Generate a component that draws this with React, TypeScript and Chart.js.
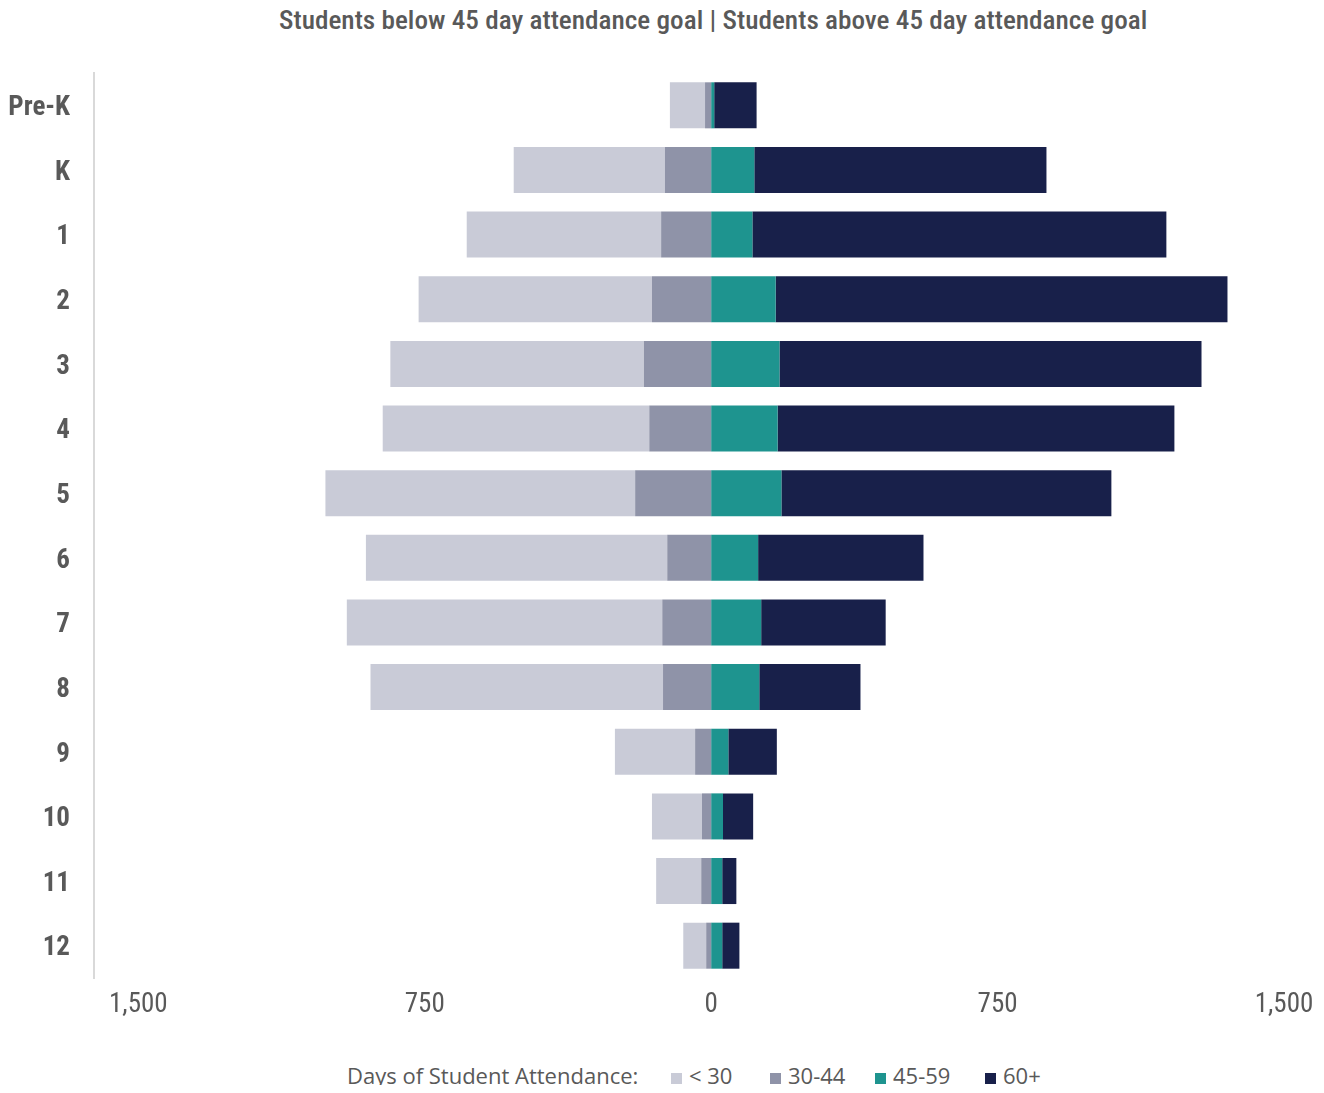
import React, { useEffect, useRef } from "react";
import { Chart, registerables } from "chart.js";

Chart.register(...registerables);

// Grades on the category axis, top to bottom
const grades = ["Pre-K", "K", "1", "2", "3", "4", "5", "6", "7", "8", "9", "10", "11", "12"];

// Student counts per attendance band
const under30 = [92, 396, 509, 611, 664, 698, 811, 789, 826, 766, 210, 131, 118, 60];
const days30to44 = [16, 121, 131, 155, 176, 162, 199, 115, 128, 126, 42, 24, 26, 13];
const days45to59 = [8, 113, 108, 169, 179, 174, 184, 123, 131, 126, 45, 31, 29, 29];
const days60plus = [111, 765, 1084, 1183, 1105, 1039, 864, 433, 326, 265, 127, 79, 37, 45];

const bandLabels = ["< 30", "30-44", "45-59", "60+"];
const bandColors = ["#C9CBD7", "#8F93A8", "#1E948F", "#18204A"];

// Value axis: labelled ticks and range
const xTicks = [-1500, -750, 0, 750, 1500];
const X_MIN = -1616;
const X_MAX = 1500;

const titleText =
  "Students below 45 day attendance goal | Students above 45 day attendance goal";
const legendTitle = "Days of Student Attendance:";

const CONDENSED = '"Roboto Condensed", "Open Sans", "Noto Sans", sans-serif';
const TEXT_GRAY = "#595959";

// legend marker positions (px, inside the wrapper)
const legendItemLeft = [663, 762, 867, 977];
const TITLE_WIDTH = 868;

export default function App() {
  const canvasRef = useRef<HTMLCanvasElement | null>(null);
  const titleRef = useRef<HTMLSpanElement | null>(null);

  useEffect(() => {
    // squeeze the title to its target width
    const t = titleRef.current;
    if (t) {
      const w = t.offsetWidth;
      if (w > 0) t.style.transform = `scaleX(${TITLE_WIDTH / w})`;
    }

    const canvas = canvasRef.current;
    if (!canvas) return;

    // below-goal bands extend to the left, so they are plotted as negatives;
    // 30-44 is stacked first so it sits next to zero
    const chart = new Chart(canvas, {
      type: "bar",
      data: {
        labels: grades,
        datasets: [
          {
            label: bandLabels[0],
            data: under30.map((v) => -v),
            backgroundColor: bandColors[0],
            order: 1,
          },
          {
            label: bandLabels[1],
            data: days30to44.map((v) => -v),
            backgroundColor: bandColors[1],
            order: 0,
          },
          {
            label: bandLabels[2],
            data: days45to59,
            backgroundColor: bandColors[2],
            order: 2,
          },
          {
            label: bandLabels[3],
            data: days60plus,
            backgroundColor: bandColors[3],
            order: 3,
          },
        ],
      },
      options: {
        indexAxis: "y",
        responsive: false,
        animation: false,
        layout: { padding: { top: 65, right: 32, left: 0, bottom: 0 } },
        datasets: {
          bar: { barPercentage: 0.712, categoryPercentage: 1, borderWidth: 0 },
        },
        plugins: {
          legend: { display: false },
          title: { display: false },
          tooltip: { enabled: false },
        },
        scales: {
          x: {
            type: "linear",
            stacked: true,
            min: X_MIN,
            max: X_MAX,
            afterBuildTicks: (scale: any) => {
              scale.ticks = xTicks.map((value) => ({ value }));
            },
            afterFit: (scale: any) => {
              scale.height = 60;
              scale.paddingLeft = 0;
              scale.paddingRight = 0;
            },
            grid: { display: false, drawTicks: false },
            border: { display: false },
            ticks: {
              autoSkip: false,
              maxRotation: 0,
              padding: 11,
              color: TEXT_GRAY,
              font: { family: CONDENSED, size: 27, weight: "normal condensed" as any },
              callback: (v: any) => Math.abs(Number(v)).toLocaleString("en-US"),
            },
          },
          y: {
            type: "category",
            stacked: true,
            afterFit: (scale: any) => {
              scale.width = 86;
            },
            grid: { display: false, drawTicks: false },
            border: { display: true, color: "#D9D9D9", width: 2 },
            ticks: {
              autoSkip: false,
              padding: 24,
              labelOffset: 3,
              color: TEXT_GRAY,
              font: { family: CONDENSED, size: 27, weight: "bold condensed" as any },
            },
          },
        },
      },
    });

    return () => chart.destroy();
  }, []);

  return (
    <div style={{ position: "relative", width: 1308, height: 1077 }}>
      <div
        style={{
          position: "absolute",
          left: 271,
          top: -2,
          lineHeight: "30px",
          whiteSpace: "nowrap",
        }}
      >
        <span
          ref={titleRef}
          style={{
            display: "inline-block",
            transformOrigin: "0 0",
            fontFamily: CONDENSED,
            fontStretch: "condensed",
            fontWeight: 500,
            fontSize: 25,
            color: TEXT_GRAY,
          }}
        >
          {titleText}
        </span>
      </div>
      <canvas
        ref={canvasRef}
        width={1308}
        height={1030}
        style={{ position: "absolute", left: 0, top: 0 }}
      />
      <div
        style={{
          position: "absolute",
          left: 0,
          top: 1055,
          width: 1308,
          height: 24,
          fontFamily: '"Open Sans", sans-serif',
          fontSize: 22,
          lineHeight: "24px",
          color: TEXT_GRAY,
          whiteSpace: "nowrap",
        }}
      >
        <span style={{ position: "absolute", left: 339 }}>{legendTitle}</span>
        {bandLabels.map((label, i) => (
          <span key={label} style={{ position: "absolute", left: legendItemLeft[i] }}>
            <span
              style={{
                display: "inline-block",
                width: 11,
                height: 11,
                background: bandColors[i],
                marginRight: 7,
                verticalAlign: "baseline",
              }}
            />
            {label}
          </span>
        ))}
      </div>
    </div>
  );
}
